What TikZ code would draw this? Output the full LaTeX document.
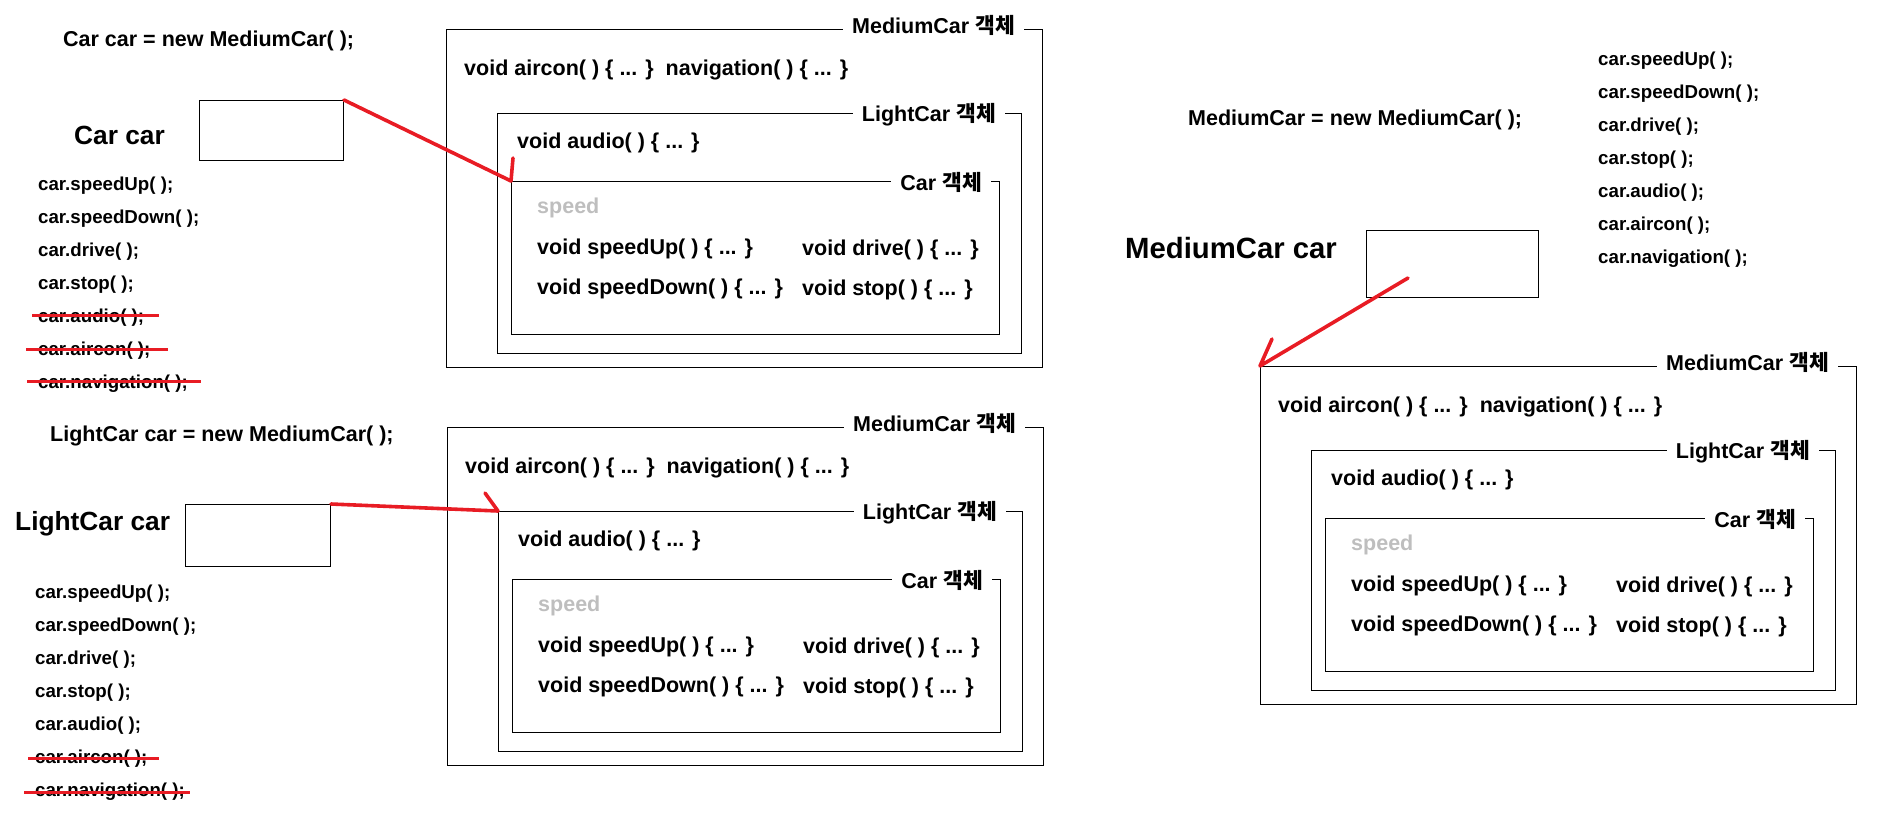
\documentclass[tikz,border=0pt]{standalone}
\usepackage{fontspec}
\setmainfont{Liberation Sans}
\newfontfamily\kr{Noto Sans CJK KR}
\usetikzlibrary{positioning}
\definecolor{carred}{RGB}{232,28,36}
\definecolor{fieldgray}{RGB}{190,190,190}

\begin{document}
\begin{tikzpicture}
  [x=1pt, y=-1pt, every node/.style={inner sep=0pt, anchor=west},
   code/.style={font=\fontsize{21.5}{24}\selectfont\bfseries, yshift=-2.5pt},
   call/.style={font=\fontsize{18.7}{21}\selectfont\bfseries},
   big/.style={font=\fontsize{26.3}{30}\selectfont\bfseries},
   bigger/.style={font=\fontsize{29.3}{33}\selectfont\bfseries},
   objbox/.style={draw, line width=1pt, anchor=north west},
   objlabel/.style={code, yshift=0pt, fill=white, anchor=east, inner xsep=9pt, inner ysep=2pt},
   refbox/.style={draw, line width=1pt, anchor=north west},
   refline/.style={carred, line width=3.6pt, line cap=round, line join=round},
   strike/.style={carred, line width=3pt}]
  \useasboundingbox (0,0) rectangle (1887,825);

  \foreach \bx/\by/\k in {446/29/a, 447/427/b, 1260/366/c} {
    \begin{scope}[shift={(\bx,\by)}]
      \node[objbox, minimum width=596pt, minimum height=338pt] (med\k) at (0,0) {};
      \node[objlabel] (medlab\k) at (578,-6) {MediumCar {\kr 객체}};
      \node[code] (aircon\k) at (18,38) {void aircon( ) \{ ... \}\hspace{12pt}navigation( ) \{ ... \}};

      \node[objbox, minimum width=524pt, minimum height=240pt] (light\k) at (51,84) {};
      \node[objlabel] (lightlab\k) at (559,83) {LightCar {\kr 객체}};
      \node[code] (audio\k) at (71,111) {void audio( ) \{ ... \}};

      \node[objbox, minimum width=488pt, minimum height=153pt] (car\k) at (65,152) {};
      \node[objlabel] (carlab\k) at (545,151) {Car {\kr 객체}};
      \node[code, text=fieldgray] (speed\k) at (91,176) {speed};
      \node[code] (up\k) at (91,217) {void speedUp( ) \{ ... \}};
      \node[code] (drive\k) at (356,218) {void drive( ) \{ ... \}};
      \node[code] (down\k) at (91,257) {void speedDown( ) \{ ... \}};
      \node[code] (stop\k) at (356,258) {void stop( ) \{ ... \}};
    \end{scope}
  }

  \node[code] (newa) at (63,38) {Car car = new MediumCar( );};
  \node[code] (newb) at (50,433) {LightCar car = new MediumCar( );};
  \node[code] (newc) at (1188,117) {MediumCar = new MediumCar( );};

  \node[big] (vara) at (74,135) {Car car};
  \node[big] (varb) at (15,524) {LightCar car};
  \node[bigger] (varc) at (1125,248) {MediumCar car};

  \node[refbox, minimum width=144pt, minimum height=60pt] (refa) at (199,100) {};
  \node[refbox, minimum width=145pt, minimum height=62pt] (refb) at (185,504) {};
  \node[refbox, minimum width=172pt, minimum height=67pt] (refc) at (1366,230) {};

  \foreach \k/\x/\y/\s in {a/38/186/33, b/35/594/32.9, c/1598/61/33}
    \foreach \t [count=\i] in {speedUp, speedDown, drive, stop, audio, aircon, navigation}
      \node[call] (\k\i) at (\x, {\y+\s*(\i-1)}) {car.\t( );};

  \foreach \n/\l/\r/\d in {a5/6/15/-2.5, a6/12/17/-2, a7/11/13/-2.5, b6/7/11/0, b7/11/5/1}
    \draw[strike] ([shift={(-\l,\d)}]\n.west) -- ([shift={(\r,\d)}]\n.east);

  \draw[refline] (refa.north east) -- (cara.north west) -- ++(2,-23);
  \draw[refline] (refb.north east) -- (lightb.north west) -- ++(-13,-18);
  \coordinate (startc) at ([shift={(42,-20)}]refc.south west);
  \draw[refline] (startc) -- (medc.north west) -- ++(12,-27);
\end{tikzpicture}
\end{document}
